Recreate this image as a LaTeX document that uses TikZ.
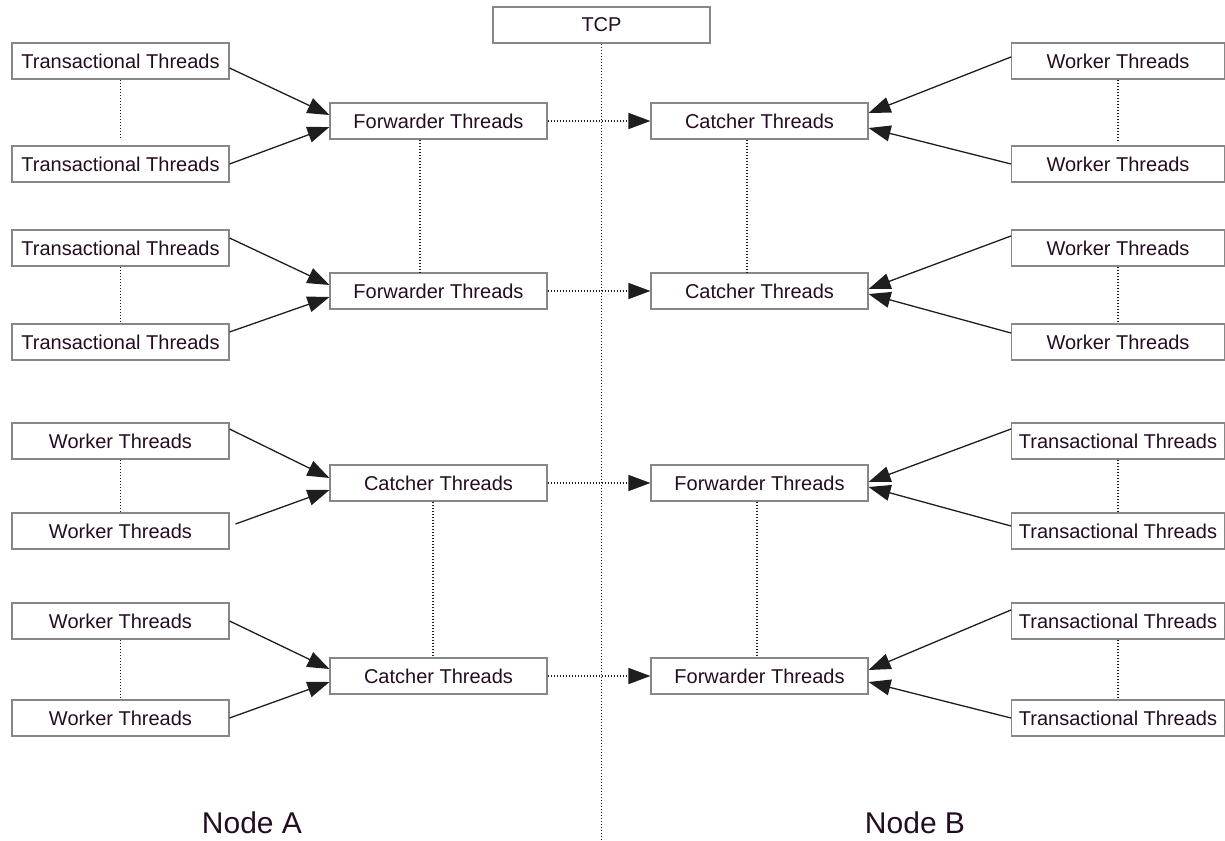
\documentclass[tikz,border=0pt]{standalone}
\usepackage{fontspec}
\setmainfont{Liberation Sans}
\usepackage{tikz}
\usetikzlibrary{arrows.meta}

\definecolor{boxline}{RGB}{135,135,135}
\definecolor{wire}{RGB}{30,30,30}
\definecolor{ink}{RGB}{36,12,34}

\begin{document}
\begin{tikzpicture}[x=1pt,y=-1pt,
    thread/.style={draw=boxline,line width=1.1pt,text=ink,minimum width=217pt,
      minimum height=36pt,inner sep=0pt,font=\fontsize{20}{23}\selectfont},
    feed/.style={draw=wire,line width=1.3pt,-{Triangle[length=22pt,width=16pt]}},
    link/.style={draw=wire,line width=1.4pt,dash pattern=on 1.5pt off 1.5pt},
    hop/.style={link,-{Triangle[length=22pt,width=16pt]}},
    side/.style={text=ink,font=\fontsize{30}{36}\selectfont}]
  \useasboundingbox (0,0) rectangle (1225,840);

  \node[thread] (tcp) at (601.5,25) {TCP};
  \coordinate (bottom) at (601.5,840);

  \node[thread] (la1) at (120.5,61)  {Transactional Threads};
  \node[thread] (la2) at (120.5,164) {Transactional Threads};
  \node[thread] (la3) at (120.5,248) {Transactional Threads};
  \node[thread] (la4) at (120.5,342) {Transactional Threads};
  \node[thread] (la5) at (120.5,441) {Worker Threads};
  \node[thread] (la6) at (120.5,531) {Worker Threads};
  \node[thread] (la7) at (120.5,621) {Worker Threads};
  \node[thread] (la8) at (120.5,718) {Worker Threads};

  \node[thread] (ma1) at (438.5,121) {Forwarder Threads};
  \node[thread] (ma2) at (438.5,291) {Forwarder Threads};
  \node[thread] (ma3) at (438.5,483) {Catcher Threads};
  \node[thread] (ma4) at (438.5,676) {Catcher Threads};

  \node[thread] (mb1) at (759.5,121) {Catcher Threads};
  \node[thread] (mb2) at (759.5,291) {Catcher Threads};
  \node[thread] (mb3) at (759.5,483) {Forwarder Threads};
  \node[thread] (mb4) at (759.5,676) {Forwarder Threads};

  \node[thread,minimum width=213pt] (rb1) at (1118,61)  {Worker Threads};
  \node[thread,minimum width=213pt] (rb2) at (1118,164) {Worker Threads};
  \node[thread,minimum width=213pt] (rb3) at (1118,248) {Worker Threads};
  \node[thread,minimum width=213pt] (rb4) at (1118,342) {Worker Threads};
  \node[thread,minimum width=213pt] (rb5) at (1118,441) {Transactional Threads};
  \node[thread,minimum width=213pt] (rb6) at (1118,531) {Transactional Threads};
  \node[thread,minimum width=213pt] (rb7) at (1118,621) {Transactional Threads};
  \node[thread,minimum width=213pt] (rb8) at (1118,718) {Transactional Threads};

  \node[side] (nodea) at (252,823) {Node A};
  \node[side] (nodeb) at (915,823) {Node B};

  \draw[link] (tcp) -- (bottom);

  \draw[link,shorten >=8pt] (la1) -- (la2);
  \draw[link] (la3) -- (la4);
  \draw[link] (la5) -- (la6);
  \draw[link] (la7) -- (la8);
  \draw[link,shorten >=3pt] (rb1) -- (rb2);
  \draw[link] (rb3) -- (rb4);
  \draw[link] (rb5) -- (rb6);
  \draw[link] (rb7) -- (rb8);

  \draw[link] ([xshift=-18.5pt]ma1.south) -- ([xshift=-18.5pt]ma2.north);
  \draw[link] ([xshift=-5.5pt]ma3.south) -- ([xshift=-5.5pt]ma4.north);
  \draw[link] ([xshift=-12.5pt]mb1.south) -- ([xshift=-12.5pt]mb2.north);
  \draw[link] ([xshift=-2.5pt]mb3.south) -- ([xshift=-2.5pt]mb4.north);

  \draw[feed] ([yshift=-7pt]la1.east) -- ([yshift=6pt]ma1.west);
  \draw[feed] (la2.east) -- ([yshift=-6pt]ma1.west);
  \draw[feed] ([yshift=10pt]la3.east) -- ([yshift=6pt]ma2.west);
  \draw[feed] ([yshift=10pt]la4.east) -- ([yshift=-6pt]ma2.west);
  \draw[feed] ([yshift=12pt]la5.east) -- ([yshift=5pt]ma3.west);
  \draw[feed] ([xshift=6pt,yshift=7pt]la6.east) -- ([yshift=-7pt]ma3.west);
  \draw[feed] (la7.east) -- ([yshift=7pt]ma4.west);
  \draw[feed] (la8.east) -- ([yshift=-6pt]ma4.west);

  \draw[feed] ([yshift=4pt]rb1.west) -- ([yshift=8pt]mb1.east);
  \draw[feed] (rb2.west) -- ([yshift=-7pt]mb1.east);
  \draw[feed] ([yshift=12pt]rb3.west) -- ([yshift=2pt]mb2.east);
  \draw[feed] ([yshift=9pt]rb4.west) -- ([yshift=-3pt]mb2.east);
  \draw[feed] ([yshift=12pt]rb5.west) -- ([yshift=1pt]mb3.east);
  \draw[feed] ([yshift=5pt]rb6.west) -- ([yshift=-4pt]mb3.east);
  \draw[feed] ([yshift=11pt]rb7.west) -- ([yshift=6pt]mb4.east);
  \draw[feed] (rb8.west) -- ([yshift=-6pt]mb4.east);

  \draw[hop] (ma1) -- (mb1);
  \draw[hop] (ma2) -- (mb2);
  \draw[hop] (ma3) -- (mb3);
  \draw[hop] (ma4) -- (mb4);
\end{tikzpicture}
\end{document}
